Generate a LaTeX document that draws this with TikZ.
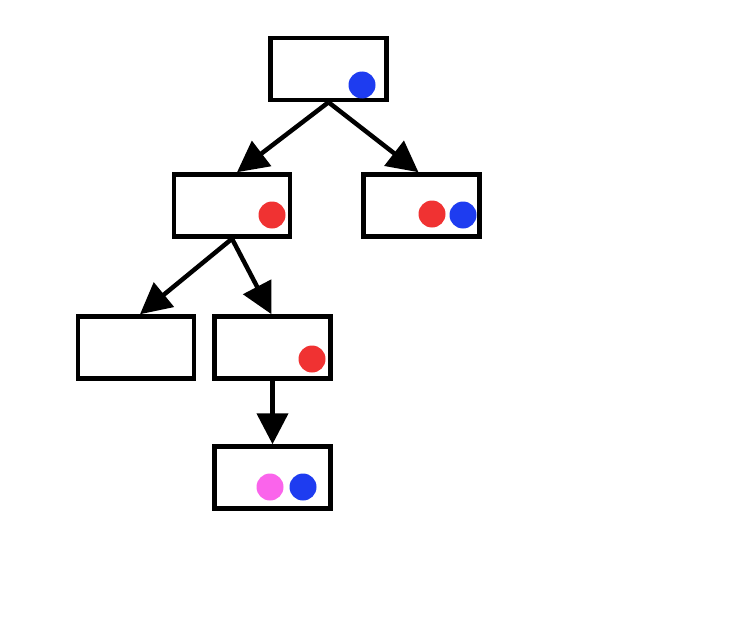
\documentclass[tikz,border=0pt]{standalone}
\usetikzlibrary{arrows.meta}
\definecolor{dotblue}{RGB}{30,60,240}
\definecolor{dotred}{RGB}{240,50,50}
\definecolor{dotpink}{RGB}{250,100,235}
\begin{document}
\begin{tikzpicture}[x=1pt,y=-1pt,
  box/.style={draw=black,line width=4.5pt,fill=white,minimum width=116pt,minimum height=62pt,inner sep=0pt,rectangle},
  dot/.style={circle,inner sep=0pt,minimum size=27pt},
  arr/.style={line width=4.5pt,-{Triangle[length=31pt,width=31pt]}}]
\useasboundingbox (0,0) rectangle (752,618);
\fill[white] (0,0) rectangle (752,618);
\node[box] (root) at (328.5,69) {};
\node[box] (L) at (232,205.5) {};
\node[box] (R) at (421.5,205.5) {};
\node[box] (LL) at (136,347.5) {};
\node[box] (LR) at (272.5,347.5) {};
\node[box] (LRC) at (272.5,477.5) {};
\node[dot,fill=dotblue] (d1) at (362,85) {};
\node[dot,fill=dotred] (d2) at (272,215) {};
\node[dot,fill=dotred] (d3) at (432,214) {};
\node[dot,fill=dotblue] (d4) at (463,215) {};
\node[dot,fill=dotred] (d5) at (312,359) {};
\node[dot,fill=dotpink] (d6) at (270,487) {};
\node[dot,fill=dotblue] (d7) at (303,487) {};
\draw[arr] (root.south) -- ([xshift=5pt]L.north);
\draw[arr] (root.south) -- ([xshift=-3pt]R.north);
\draw[arr] (L.south) -- ([xshift=4pt]LL.north);
\draw[arr] (L.south) -- ([xshift=-1pt]LR.north);
\draw[arr] (LR.south) -- (LRC.north);
\end{tikzpicture}
\end{document}
